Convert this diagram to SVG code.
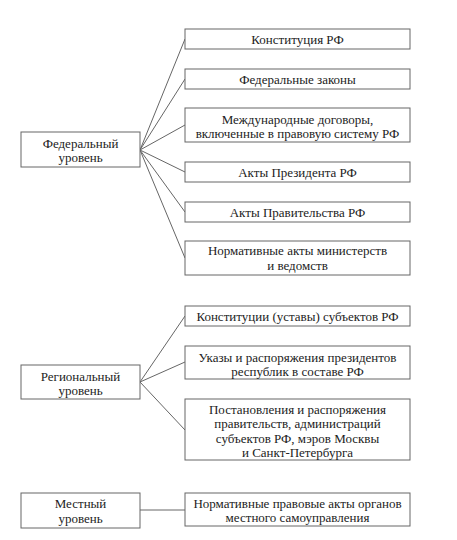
<svg xmlns="http://www.w3.org/2000/svg" width="457" height="540" viewBox="0 0 457 540">
<style>
rect{fill:#fff;stroke:#666;stroke-width:1}
text{font-family:"Liberation Serif","Times New Roman",serif;font-size:13px;fill:#222;text-anchor:middle}
line{stroke:#666;stroke-width:1}
</style>
<rect x="0" y="0" width="457" height="540" style="stroke:none"/>
<g id="connectors">
<line x1="140" y1="150" x2="185" y2="39"/>
<line x1="140" y1="150" x2="185" y2="79"/>
<line x1="140" y1="150" x2="185" y2="125"/>
<line x1="140" y1="150" x2="185" y2="172"/>
<line x1="140" y1="150" x2="185" y2="212"/>
<line x1="140" y1="150" x2="185" y2="258"/>
<line x1="140" y1="382" x2="185" y2="316"/>
<line x1="140" y1="382" x2="185" y2="362"/>
<line x1="140" y1="382" x2="185" y2="430"/>
<line x1="140" y1="510" x2="185" y2="510"/>
</g>
<g id="federal"><rect x="21" y="132" width="119" height="35"/><text x="80.5" y="147.5">Федеральный</text><text x="80.5" y="161.5">уровень</text></g>
<g id="f1"><rect x="185" y="29" width="225" height="20"/><text x="297.5" y="43.5">Конституция РФ</text></g>
<g id="f2"><rect x="185" y="69" width="225" height="20"/><text x="297.5" y="83.5">Федеральные законы</text></g>
<g id="f3"><rect x="185" y="108" width="225" height="34"/><text x="297.5" y="123.5">Международные договоры,</text><text x="297.5" y="137.5">включенные в правовую систему РФ</text></g>
<g id="f4"><rect x="185" y="162" width="225" height="20"/><text x="297.5" y="176.5">Акты Президента РФ</text></g>
<g id="f5"><rect x="185" y="202" width="225" height="20"/><text x="297.5" y="216.5">Акты Правительства РФ</text></g>
<g id="f6"><rect x="185" y="241" width="225" height="34"/><text x="297.5" y="254.5">Нормативные акты министерств</text><text x="297.5" y="270">и ведомств</text></g>
<g id="regional"><rect x="21" y="365" width="119" height="34"/><text x="80.5" y="380.5">Региональный</text><text x="80.5" y="394.5">уровень</text></g>
<g id="r1"><rect x="185" y="306" width="225" height="20"/><text x="297.5" y="320.5">Конституции (уставы) субъектов РФ</text></g>
<g id="r2"><rect x="185" y="346" width="225" height="33"/><text x="297.5" y="361.5">Указы и распоряжения президентов</text><text x="297.5" y="375.5">республик в составе РФ</text></g>
<g id="r3"><rect x="185" y="399" width="225" height="61"/><text x="297.5" y="413.5">Постановления и распоряжения</text><text x="297.5" y="428">правительств, администраций</text><text x="297.5" y="442.5">субъектов РФ, мэров Москвы</text><text x="297.5" y="456.5">и Санкт-Петербурга</text></g>
<g id="local"><rect x="21" y="493" width="119" height="35"/><text x="80.5" y="507.5">Местный</text><text x="80.5" y="523">уровень</text></g>
<g id="l1"><rect x="185" y="493" width="225" height="33"/><text x="297.5" y="507.5">Нормативные правовые акты органов</text><text x="297.5" y="522">местного самоуправления</text></g>
</svg>
